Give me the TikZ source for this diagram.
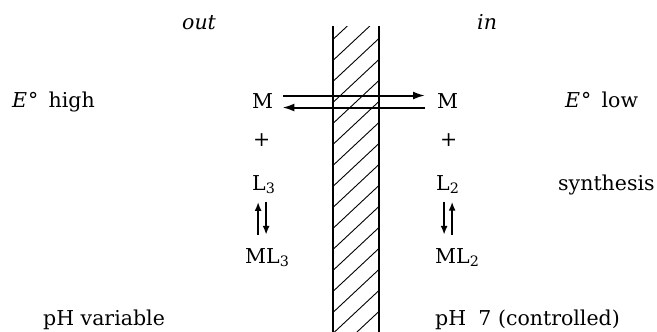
\documentclass[tikz,border=0pt]{standalone}
\usepackage{fontspec}
\setmainfont{DejaVu Serif}
\usetikzlibrary{arrows.meta}

\begin{document}
\begin{tikzpicture}[
      x=1pt, y=-1pt,
      >={Latex[length=12pt,width=8pt]},
      lbl/.style={anchor=base west, inner sep=0pt,
                  font=\fontsize{20.5}{24}\selectfont},
      wall/.style={line width=2pt},
      hatch/.style={line width=0.9pt},
      flow/.style={->, line width=2pt},
      eqarrow/.style={-{Latex[length=9pt,width=7pt]}, line width=2pt}
    ]
      \useasboundingbox (0,0) rectangle (657,332);

      \begin{scope}
        \clip (332.7,26) rectangle (378.7,332);
        \foreach \k in {0,...,17}
          \draw[hatch] (332.7,{39.7+21*\k}) -- ++(46,-43);
      \end{scope}
      \draw[wall] (332.7,26) -- (332.7,332);
      \draw[wall] (378.7,26) -- (378.7,332);

      \node[lbl] (out) at (182,30) {\textit{out}};
      \node[lbl] (in) at (477,30) {\textit{in}};

      \node[lbl] (eh) at (12,107) {\textit{E}\kern1pt°\hspace{0.5em}high};
      \node[lbl] (el) at (565,107) {\textit{E}\kern1pt°\hspace{0.5em}low};
      \node[lbl] (syn) at (558,190) {synthesis};
      \node[lbl] (phA) at (43,325) {pH variable};
      \node[lbl] (phB) at (435,325) {pH\hspace{0.6em}7 (controlled)};

      \node[lbl] (mA) at (252,108) {M};
      \node[lbl] (pA) at (253,146) {+};
      \node[lbl] (lA) at (252,190) {L\textsubscript{3}};
      \node[lbl] (mlA) at (245,263) {ML\textsubscript{3}};

      \node[lbl] (mB) at (437,108) {M};
      \node[lbl] (pB) at (440,146) {+};
      \node[lbl] (lB) at (436,190) {L\textsubscript{2}};
      \node[lbl] (mlB) at (435,263) {ML\textsubscript{2}};

      \draw[flow, shorten <=10pt, shorten >=12pt]
        ([yshift=5pt]mA.east) -- ([yshift=5pt]mB.west);
      \draw[flow, shorten <=12pt, shorten >=9pt]
        ([yshift=-7pt]mB.west) -- ([yshift=-7pt]mA.east);

      \draw[eqarrow, shorten <=13pt, shorten >=8pt]
        ([xshift=-5.7pt]lA.south |- mlA.north) -- ([xshift=-5.7pt]lA.south);
      \draw[eqarrow, shorten <=8pt, shorten >=13pt]
        ([xshift=2.3pt]lA.south) -- ([xshift=2.3pt]lA.south |- mlA.north);
      \draw[eqarrow, shorten <=8pt, shorten >=13pt]
        ([xshift=-3.7pt]lB.south) -- ([xshift=-3.7pt]lB.south |- mlB.north);
      \draw[eqarrow, shorten <=13pt, shorten >=8pt]
        ([xshift=4.3pt]lB.south |- mlB.north) -- ([xshift=4.3pt]lB.south);
    \end{tikzpicture}
\end{document}
